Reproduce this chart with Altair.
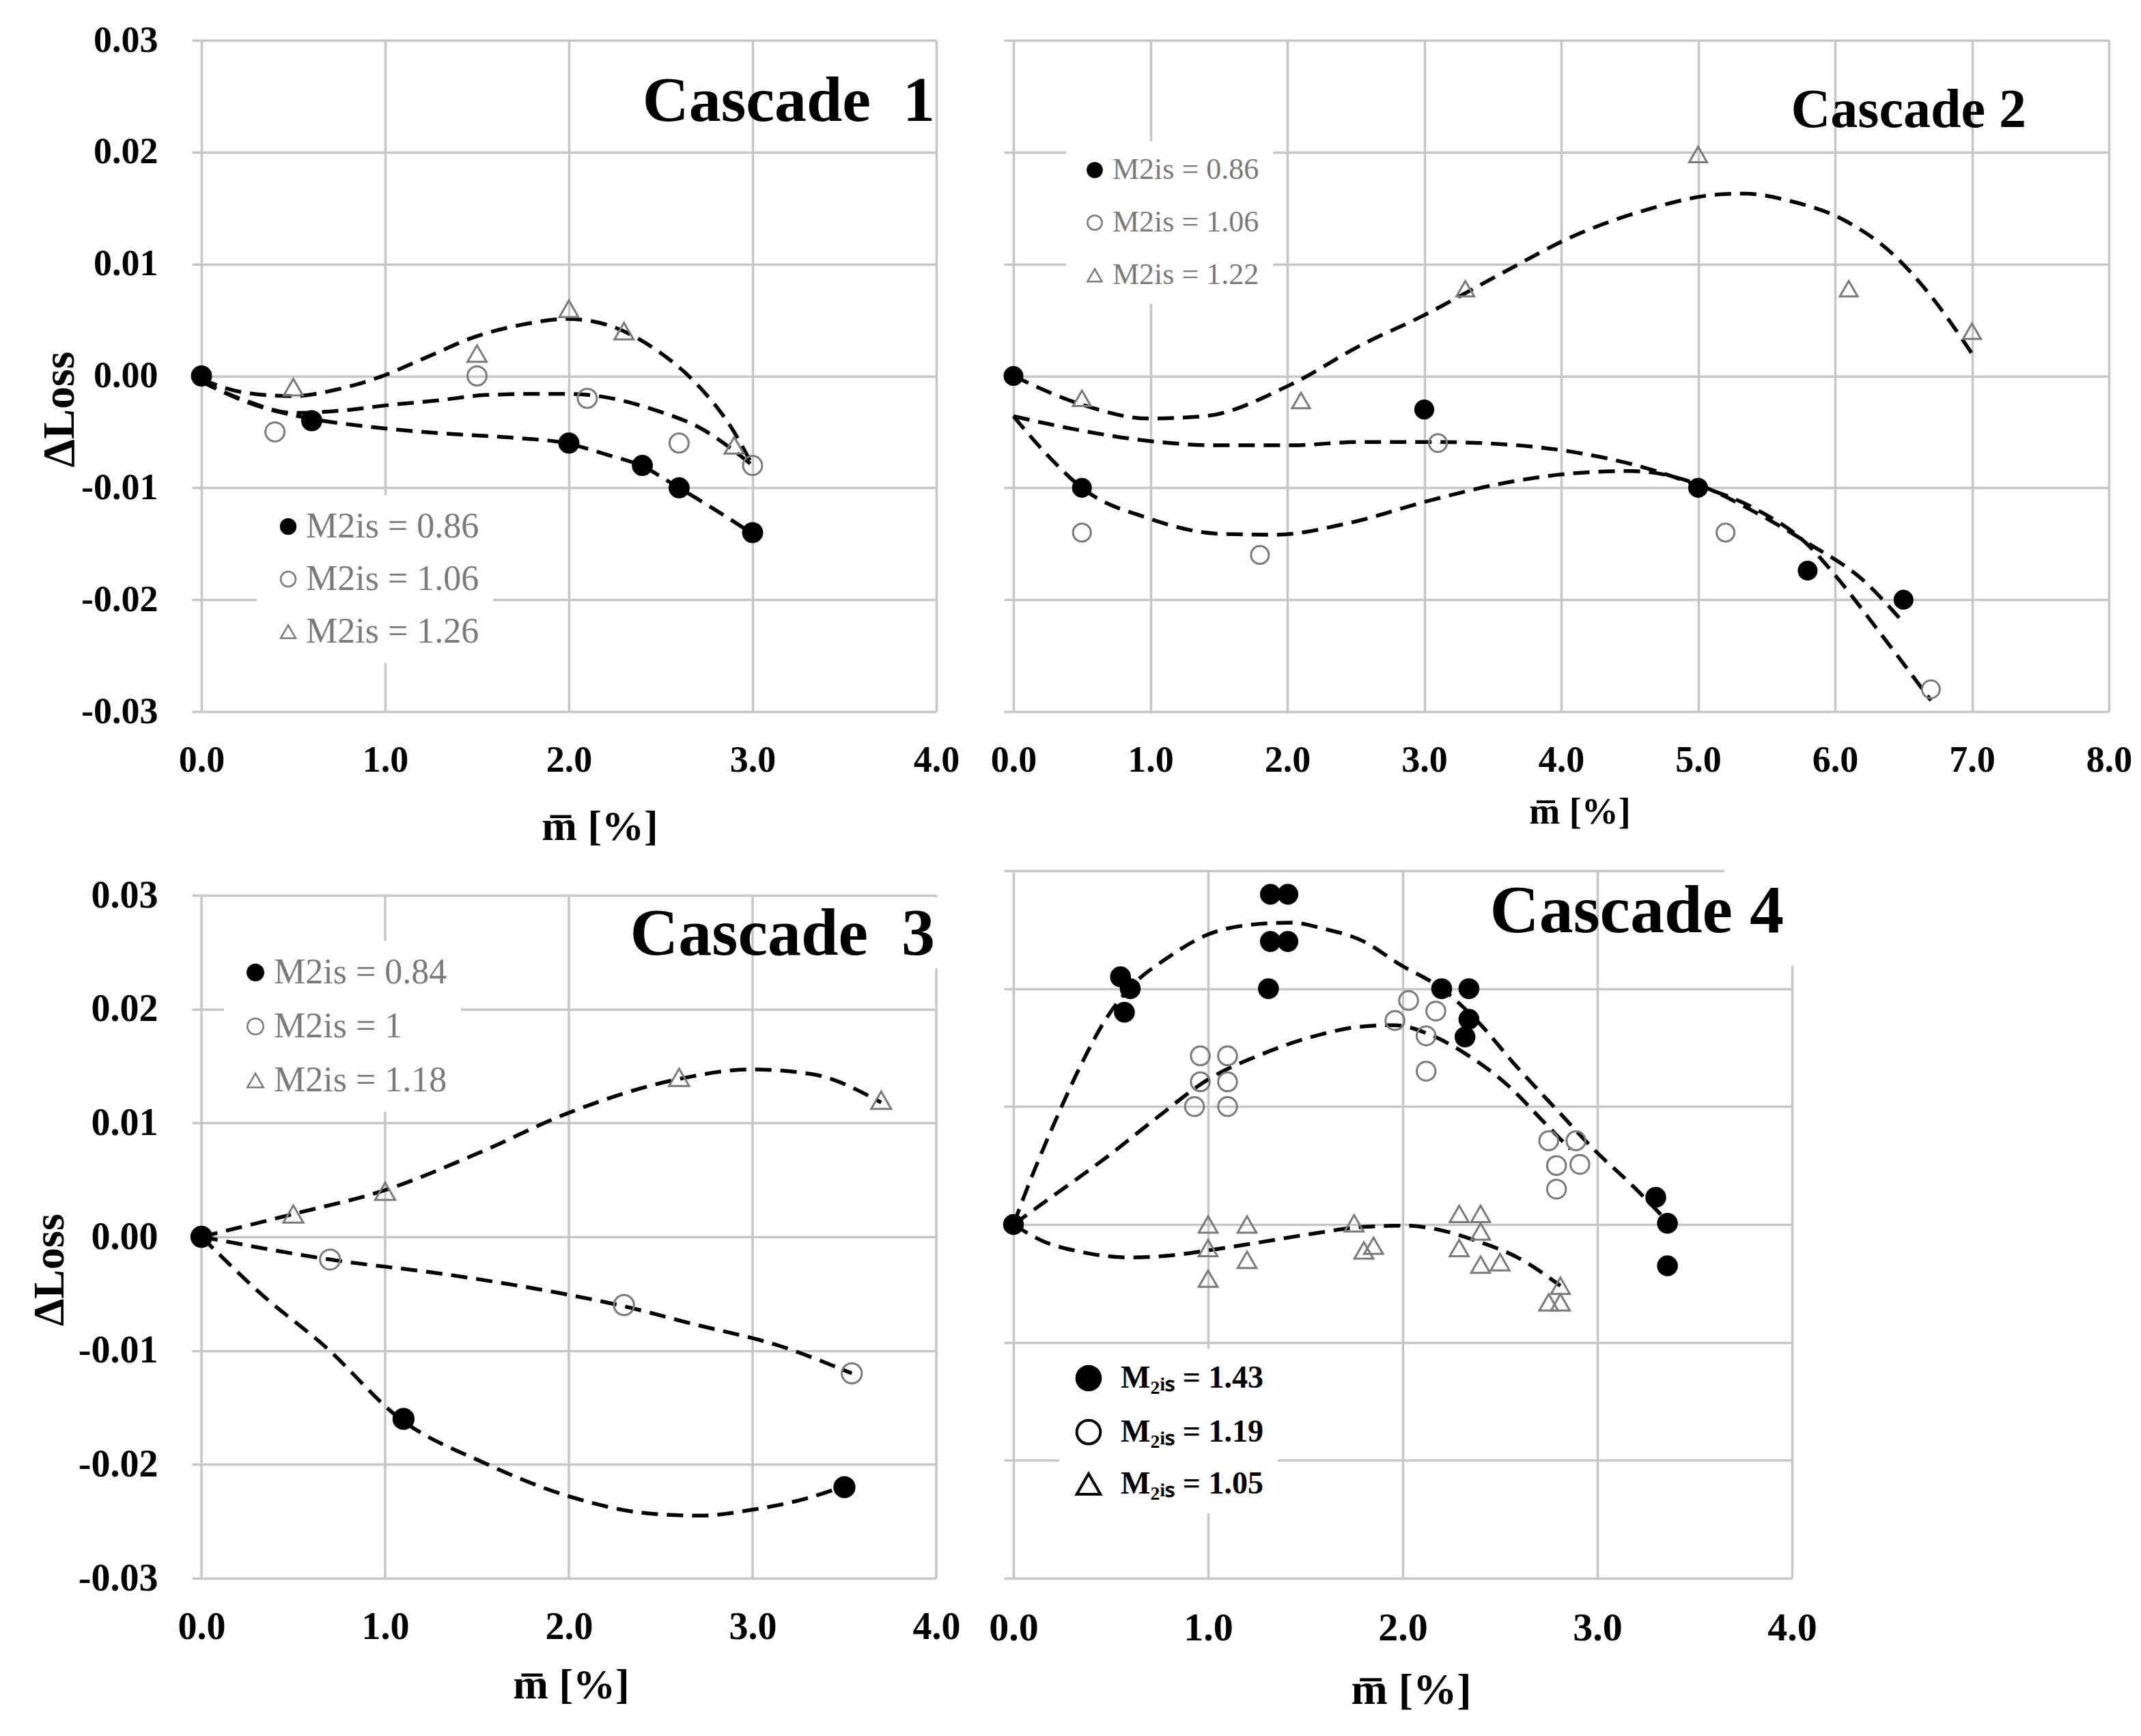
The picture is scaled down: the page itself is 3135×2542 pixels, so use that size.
import altair as alt
import pandas as pd

FONT = "Liberation Serif"
GRID = "#c6c6c6"
GRAY = "#7a7a7a"
MINUS = "\u2212"

Y_TICKS = [-0.03, -0.02, -0.01, 0.0, 0.01, 0.02, 0.03]

# ---------------- Cascade 1 ----------------
c1_labels = ["M2is = 0.86", "M2is = 1.06", "M2is = 1.26"]
c1_x_ticks = [0.0, 1.0, 2.0, 3.0, 4.0]
c1_a_x = [0.0, 0.6, 2.0, 2.4, 2.6, 3.0]
c1_a_y = [0.0, -0.004, -0.006, -0.008, -0.010, -0.014]
c1_b_x = [0.4, 1.5, 2.1, 2.6, 3.0]
c1_b_y = [-0.005, 0.0, -0.002, -0.006, -0.008]
c1_c_x = [0.5, 1.5, 2.0, 2.3, 2.9]
c1_c_y = [-0.001, 0.002, 0.006, 0.004, -0.0062]
c1_fa_x = [0.0, 0.24, 0.59, 0.89, 1.28, 1.68, 1.98, 2.22, 2.39, 2.59, 2.80, 3.0]
c1_fa_y = [-0.0005, -0.0023, -0.0038, -0.0045, -0.0051, -0.0055, -0.0060, -0.0071, -0.0080, -0.0099, -0.0120, -0.0141]
c1_fb_x = [0.0, 0.24, 0.5, 0.76, 1.02, 1.28, 1.55, 1.81, 1.99, 2.2, 2.46, 2.72, 3.0]
c1_fb_y = [-0.0005, -0.0022, -0.0033, -0.0031, -0.0026, -0.0022, -0.0017, -0.0016, -0.0016, -0.0019, -0.0030, -0.0047, -0.0080]
c1_fc_x = [0.0, 0.24, 0.5, 0.74, 0.97, 1.23, 1.49, 1.75, 1.99, 2.22, 2.46, 2.70, 2.88, 3.0]
c1_fc_y = [-0.0003, -0.0015, -0.0018, -0.0012, -0.0001, 0.0017, 0.0035, 0.0046, 0.0051, 0.0045, 0.0025, -0.0008, -0.0045, -0.0080]

# ---------------- Cascade 2 ----------------
c2_labels = ["M2is = 0.86", "M2is = 1.06", "M2is = 1.22"]
c2_x_ticks = [0.0, 1.0, 2.0, 3.0, 4.0, 5.0, 6.0, 7.0, 8.0]
c2_a_x = [0.0, 0.5, 3.0, 5.0, 5.8, 6.5]
c2_a_y = [0.0, -0.010, -0.003, -0.010, -0.0174, -0.020]
c2_b_x = [0.5, 1.8, 3.1, 5.2, 6.7]
c2_b_y = [-0.014, -0.016, -0.006, -0.014, -0.028]
c2_c_x = [0.5, 2.1, 3.3, 5.0, 6.1, 7.0]
c2_c_y = [-0.002, -0.0022, 0.0078, 0.0198, 0.0078, 0.004]
c2_fa_x = [0.0, 0.25, 0.51, 0.98, 1.5, 1.91, 2.43, 3.05, 3.57, 4.09, 4.51, 4.82, 5.0, 5.39, 5.81, 6.2, 6.51]
c2_fa_y = [-0.0036, -0.0071, -0.0101, -0.0127, -0.0141, -0.0142, -0.0132, -0.0111, -0.0096, -0.0087, -0.0085, -0.0090, -0.0097, -0.0120, -0.0150, -0.0182, -0.0222]
c2_fb_x = [0.0, 0.46, 0.98, 1.5, 2.02, 2.53, 3.05, 3.57, 4.09, 4.61, 5.0, 5.39, 5.81, 6.0, 6.3, 6.7]
c2_fb_y = [-0.0036, -0.0048, -0.0058, -0.0062, -0.0062, -0.0059, -0.0059, -0.0061, -0.0068, -0.0082, -0.0098, -0.0117, -0.0152, -0.0178, -0.0225, -0.0290]
c2_fc_x = [0.0, 0.51, 0.98, 1.39, 2.02, 2.53, 3.01, 3.57, 4.09, 4.61, 5.13, 5.34, 5.65, 6.07, 6.43, 6.69, 7.0]
c2_fc_y = [0.0, -0.0026, -0.0038, -0.0036, -0.0008, 0.0027, 0.0055, 0.0092, 0.0125, 0.0148, 0.0162, 0.0163, 0.0157, 0.0139, 0.0108, 0.0073, 0.0020]

# ---------------- Cascade 3 ----------------
c3_labels = ["M2is = 0.84", "M2is = 1", "M2is = 1.18"]
c3_x_ticks = [0.0, 1.0, 2.0, 3.0, 4.0]
c3_a_x = [0.0, 1.1, 3.5]
c3_a_y = [0.0, -0.016, -0.022]
c3_b_x = [0.7, 2.3, 3.54]
c3_b_y = [-0.002, -0.006, -0.012]
c3_c_x = [0.5, 1.0, 2.6, 3.7]
c3_c_y = [0.002, 0.004, 0.014, 0.012]
c3_fa_x = [0.0, 0.33, 0.67, 1.09, 1.53, 2.0, 2.43, 2.72, 2.99, 3.29, 3.5]
c3_fa_y = [0.0, -0.0051, -0.0096, -0.0161, -0.0198, -0.0228, -0.0243, -0.0245, -0.0240, -0.0230, -0.0219]
c3_fb_x = [0.0, 0.7, 1.33, 2.0, 2.3, 2.66, 3.15, 3.54]
c3_fb_y = [0.0, -0.0020, -0.0033, -0.0051, -0.0061, -0.0076, -0.0096, -0.0120]
c3_fc_x = [0.0, 0.5, 1.0, 1.5, 2.0, 2.61, 2.99, 3.32, 3.7]
c3_fc_y = [0.0, 0.0020, 0.0041, 0.0073, 0.0109, 0.0139, 0.0147, 0.0143, 0.0118]

# ---------------- Cascade 4 ----------------
c4_labels = ["M\u2082\u1d62\u209b = 1.43", "M\u2082\u1d62\u209b = 1.19", "M\u2082\u1d62\u209b = 1.05"]
c4_x_ticks = [0.0, 1.0, 2.0, 3.0, 4.0]
c4_a_x = [0.0, 0.55, 0.60, 0.57, 1.32, 1.41, 1.32, 1.41, 1.31, 2.20, 2.34, 2.34, 2.32, 3.30, 3.36, 3.36]
c4_a_y = [0.0, 0.021, 0.020, 0.018, 0.028, 0.028, 0.024, 0.024, 0.020, 0.020, 0.020, 0.0174, 0.0159, 0.0023, 0.0001, -0.0035]
c4_b_x = [0.96, 1.10, 0.96, 1.10, 0.93, 1.10, 1.96, 2.03, 2.17, 2.12, 2.12, 2.75, 2.89, 2.79, 2.91, 2.79]
c4_b_y = [0.0143, 0.0143, 0.0121, 0.0121, 0.0100, 0.0100, 0.0173, 0.0190, 0.0181, 0.0160, 0.0130, 0.0071, 0.0071, 0.0050, 0.0051, 0.0030]
c4_c_x = [1.0, 1.0, 1.0, 1.20, 1.20, 1.75, 1.80, 1.85, 2.29, 2.40, 2.40, 2.29, 2.40, 2.50, 2.81, 2.75, 2.81]
c4_c_y = [0.0, -0.002, -0.0046, 0.0, -0.003, 0.0001, -0.0022, -0.0018, 0.0009, 0.0009, -0.0006, -0.002, -0.0034, -0.0032, -0.0052, -0.0066, -0.0066]
c4_fa_x = [0.0, 0.10, 0.21, 0.34, 0.47, 0.60, 0.79, 1.0, 1.21, 1.43, 1.59, 1.80, 1.98, 2.20, 2.38, 2.59, 2.81, 2.98, 3.18, 3.34]
c4_fa_y = [0.0, 0.0043, 0.0086, 0.0133, 0.0173, 0.0201, 0.0226, 0.0246, 0.0254, 0.0256, 0.0251, 0.0240, 0.0221, 0.0200, 0.0173, 0.0133, 0.0094, 0.0064, 0.0033, 0.0006]
c4_fb_x = [0.0, 0.21, 0.47, 0.74, 1.0, 1.27, 1.53, 1.80, 1.96, 2.14, 2.33, 2.54, 2.73, 2.86]
c4_fb_y = [0.0, 0.0025, 0.0056, 0.0091, 0.0123, 0.0144, 0.0159, 0.0168, 0.0169, 0.0161, 0.0144, 0.0118, 0.0086, 0.0064]
c4_fc_x = [0.0, 0.15, 0.34, 0.60, 0.82, 1.0, 1.27, 1.53, 1.80, 2.01, 2.20, 2.38, 2.59, 2.81]
c4_fc_y = [0.0, -0.0014, -0.0023, -0.0028, -0.0026, -0.0022, -0.0015, -0.0008, -0.0002, -0.0001, -0.0005, -0.0014, -0.0028, -0.0052]

SHAPES = ["circle", "circle", "triangle-up"]
FILLS = ["black", "transparent", "transparent"]


def make_df(labels, xs, ys, strokes=None):
    rows = []
    for i, (lab, xv, yv) in enumerate(zip(labels, xs, ys)):
        for a, b in zip(xv, yv):
            r = {"s": lab, "x": a, "y": b}
            if strokes:
                r.update(shp=SHAPES[i], fc=FILLS[i], sc=strokes[i])
            rows.append(r)
    return pd.DataFrame(rows)


def panel(cfg):
    labels = cfg["labels"]
    xenc = alt.X(
        "x:Q",
        scale=alt.Scale(domain=[0, cfg["xmax"]], nice=False, zero=False),
        axis=alt.Axis(
            values=cfg["xticks"], format=".1f", labelFont=FONT, labelFontWeight="bold",
            labelFontSize=cfg["tick_fs"], labelColor="black", labelPadding=44,
            labelFlush=False, labelOverlap=False, ticks=False, tickSize=0, domain=False,
            grid=cfg["xgrid"], gridColor=GRID, gridWidth=3.5,
            title="m\u0305 [%]", titleFont=FONT, titleFontWeight="bold",
            titleFontSize=cfg["xt_fs"], titleColor="black", titleX=cfg["xt_x"],
            titleY=cfg["xt_y"], titleAlign="center", titleBaseline="alphabetic",
        ),
    )
    yaxis_kw = dict(
        values=Y_TICKS, format=".2f", labelExpr="replace(datum.label, '" + MINUS + "', '-')",
        labelFont=FONT, labelFontWeight="bold", labelFontSize=cfg["tick_fs"],
        labelColor="black", labelPadding=50, labelFlush=False, labelOverlap=False,
        labels=cfg["ylabels"], ticks=True, tickSize=14, tickColor=GRID, tickWidth=3.5,
        domain=False, grid=True, gridColor=GRID, gridWidth=3.5,
    )
    if cfg["ylabels"]:
        yaxis_kw.update(
            title="\u0394Loss", titleFont=FONT, titleFontWeight="bold",
            titleFontSize=cfg["yt_fs"], titleColor="black", titleX=cfg["yt_x"],
            titleY=cfg["yt_y"], titleAngle=270, titleAlign="center",
            titleBaseline="alphabetic",
        )
    else:
        yaxis_kw.update(title=None)
    yenc = alt.Y("y:Q", scale=alt.Scale(domain=cfg["ydomain"], nice=False, zero=False),
                 axis=alt.Axis(**yaxis_kw))

    legend = alt.Legend(
        title=None, orient="none", legendX=cfg["leg_x"], legendY=cfg["leg_y"],
        direction="vertical", labelFont=FONT, labelFontSize=cfg["leg_fs"],
        labelColor=cfg["leg_color"], labelFontWeight=cfg["leg_weight"],
        labelLimit=2000,
        symbolSize=cfg["leg_sym"], symbolStrokeWidth=cfg["leg_sw"],
        rowPadding=cfg["leg_rowpad"], padding=20, fillColor="white",
        labelOffset=cfg["leg_off"], symbolOpacity=1,
    )

    def style_enc(field, leg, strokes):
        return dict(
            shape=alt.Shape(field, scale=alt.Scale(domain=labels, range=SHAPES), legend=leg),
            fill=alt.Fill(field, scale=alt.Scale(domain=labels, range=FILLS), legend=leg),
            stroke=alt.Stroke(field, scale=alt.Scale(domain=labels, range=strokes), legend=leg),
        )

    data_strokes = ["black", cfg["open_color"], cfg["open_color"]]
    separate_legend = cfg.get("legend_strokes") is not None
    pts = make_df(labels, cfg["px"], cfg["py"], data_strokes if separate_legend else None)
    fits = make_df(labels, cfg["fx"], cfg["fy"])

    layers = []
    if not cfg["xgrid"]:
        gdf = pd.DataFrame({"x": cfg["xticks"],
                            "y": [Y_TICKS[0]] * len(cfg["xticks"]),
                            "y2": [Y_TICKS[-1]] * len(cfg["xticks"])})
        layers.append(alt.Chart(gdf).mark_rule(color=GRID, strokeWidth=3.5).encode(
            x=xenc, y=yenc, y2="y2:Q"))

    # white patch behind the panel title (the title box hides the grid there)
    m = cfg.get("mask")
    if m:
        layers.append(alt.Chart(pd.DataFrame({"k": [0]})).mark_rect(color="white").encode(
            x=alt.value(m[0]), x2=alt.value(m[1]), y=alt.value(m[2]), y2=alt.value(m[3])))

    layers.append(alt.Chart(fits).mark_line(
        color="black", strokeWidth=5.5, strokeDash=[24, 13], interpolate="monotone"
    ).encode(x=xenc, y=yenc, detail="s:N"))

    if separate_legend:
        # data markers styled directly; legend drawn from a separate (empty) layer
        layers.append(alt.Chart(pts).mark_point(
            opacity=1, strokeWidth=3, size=cfg["msize"]
        ).encode(
            x=xenc, y=yenc,
            shape=alt.Shape("shp:N", scale=None, legend=None),
            fill=alt.Fill("fc:N", scale=None, legend=None),
            stroke=alt.Stroke("sc:N", scale=None, legend=None),
        ))
        empty = pd.DataFrame({"x": pd.Series([], dtype=float),
                              "y": pd.Series([], dtype=float),
                              "s": pd.Series([], dtype=str)})
        layers.append(alt.Chart(empty).mark_point(opacity=1, strokeWidth=cfg["leg_sw"]).encode(
            x=xenc, y=yenc, **style_enc("s:N", legend, cfg["legend_strokes"])))
    else:
        layers.append(alt.Chart(pts).mark_point(
            opacity=1, strokeWidth=3, size=cfg["msize"]
        ).encode(x=xenc, y=yenc, **style_enc("s:N", legend, data_strokes)))

    layers.append(alt.Chart(pd.DataFrame({"t": [cfg["title"]]})).mark_text(
        font=FONT, fontWeight="bold", fontSize=cfg["title_fs"], align="right",
        baseline="alphabetic", color="black"
    ).encode(text="t:N", x=alt.value(cfg["title_x"]), y=alt.value(cfg["title_y"])))

    out = alt.layer(*layers).properties(width=cfg["w"], height=cfg["h"])
    if separate_legend:
        out = out.resolve_scale(shape="independent", fill="independent", stroke="independent")
    return out


p1 = panel(dict(
    labels=c1_labels, xmax=4.0, xticks=c1_x_ticks, ydomain=[-0.03, 0.03], xgrid=True,
    px=[c1_a_x, c1_b_x, c1_c_x], py=[c1_a_y, c1_b_y, c1_c_y],
    fx=[c1_fa_x, c1_fb_x, c1_fc_x], fy=[c1_fa_y, c1_fb_y, c1_fc_y],
    w=1076, h=983, tick_fs=54, xt_fs=62, xt_x=583, xt_y=187,
    ylabels=True, yt_fs=66, yt_x=-188, yt_y=540,
    leg_x=81, leg_y=666, leg_fs=52, leg_color=GRAY, leg_weight="normal",
    leg_sym=480, leg_sw=2.5, leg_rowpad=25, leg_off=0,
    msize=780, open_color=GRAY,
    title="Cascade\u20021", title_fs=94, title_x=1074, title_y=118,
))

p2 = panel(dict(
    labels=c2_labels, xmax=8.0, xticks=c2_x_ticks, ydomain=[-0.03, 0.03], xgrid=True,
    px=[c2_a_x, c2_b_x, c2_c_x], py=[c2_a_y, c2_b_y, c2_c_y],
    fx=[c2_fa_x, c2_fb_x, c2_fc_x], fy=[c2_fa_y, c2_fb_y, c2_fc_y],
    w=1604, h=983, tick_fs=54, xt_fs=54, xt_x=829, xt_y=163,
    ylabels=False,
    leg_x=77, leg_y=148, leg_fs=44, leg_color=GRAY, leg_weight="normal",
    leg_sym=450, leg_sw=2.5, leg_rowpad=33, leg_off=4,
    msize=680, open_color=GRAY,
    title="Cascade 2", title_fs=80, title_x=1483, title_y=127,
))

p3 = panel(dict(
    labels=c3_labels, xmax=4.0, xticks=c3_x_ticks, ydomain=[-0.03, 0.03216], xgrid=False,
    px=[c3_a_x, c3_b_x, c3_c_x], py=[c3_a_y, c3_b_y, c3_c_y],
    fx=[c3_fa_x, c3_fb_x, c3_fc_x], fy=[c3_fa_y, c3_fb_y, c3_fc_y],
    w=1076, h=1036, tick_fs=56, xt_fs=62, xt_x=541, xt_y=175,
    ylabels=True, yt_fs=64, yt_x=-203, yt_y=584,
    leg_x=33, leg_y=103, leg_fs=52, leg_color=GRAY, leg_weight="normal",
    leg_sym=550, leg_sw=2.5, leg_rowpad=27, leg_off=1,
    msize=860, open_color=GRAY, mask=[1066, 1086, 39, 143],
    title="Cascade\u20023", title_fs=98, title_x=1074, title_y=123,
))

p4 = panel(dict(
    labels=c4_labels, xmax=4.0, xticks=c4_x_ticks, ydomain=[-0.03, 0.03], xgrid=True,
    px=[c4_a_x, c4_b_x, c4_c_x], py=[c4_a_y, c4_b_y, c4_c_y],
    fx=[c4_fa_x, c4_fb_x, c4_fc_x], fy=[c4_fa_y, c4_fb_y, c4_fc_y],
    w=1140, h=1036, tick_fs=58, xt_fs=64, xt_x=582, xt_y=183,
    ylabels=False,
    leg_x=67, leg_y=700, leg_fs=46, leg_color="black", leg_weight="bold",
    leg_sym=1200, leg_sw=4, leg_rowpad=27, leg_off=24,
    legend_strokes=["black", "black", "black"],
    msize=760, open_color=GRAY, mask=[1041, 1160, -6, 139],
    title="Cascade 4", title_fs=100, title_x=1128, title_y=90,
))

chart = alt.concat(
    p1, p2, p3, p4, columns=2, spacing={"row": 233, "column": 113},
    bounds="flush", align="each",
).resolve_scale(
    x="independent", y="independent", shape="independent",
    fill="independent", stroke="independent",
).resolve_legend(
    shape="independent", fill="independent", stroke="independent",
).properties(
    padding={"left": 33, "top": 24, "right": 0, "bottom": 5},
    background="white",
).configure_view(stroke=None)

chart.save("out.html", embed_options={"renderer": "svg", "actions": False})
